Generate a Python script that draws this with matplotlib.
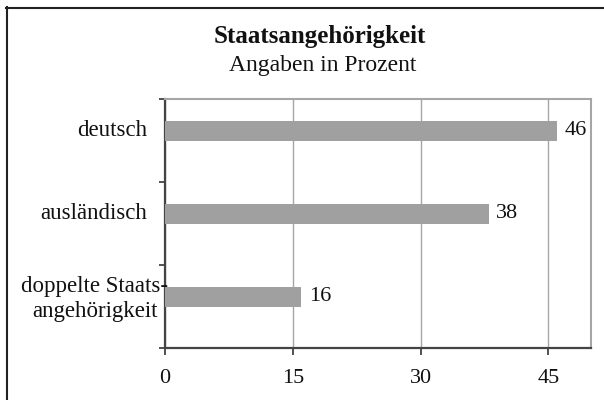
import matplotlib
matplotlib.use("Agg")
import matplotlib.pyplot as plt
from matplotlib.lines import Line2D
import matplotlib.transforms as mtransforms

categories = ["deutsch", "ausländisch", "doppelte Staats-\nangehörigkeit"]
values = [46, 38, 16]
xticks = [0, 15, 30, 45]
title = "Staatsangehörigkeit"
subtitle = "Angaben in Prozent"

plt.rcParams['font.family'] = ['Liberation Serif', 'DejaVu Serif']

fig = plt.figure(figsize=(6.04, 4.0), dpi=100)
ax = fig.add_axes([165/604, 1-348/400, 426/604, 249/400])

pos = list(range(len(categories)))
offset = -0.115
bar_y = [p + offset for p in pos]
ax.barh(bar_y, values, height=0.24, color='#A0A0A0', zorder=3)

ax.set_xlim(0, 50)
ax.set_ylim(2.5, -0.5)
ax.set_xticks(xticks)
ax.set_xticklabels([str(t) for t in xticks], fontsize=16, color='#111111')
ax.tick_params(axis='x', direction='out', length=5, width=1.2, color='#333333', pad=10)
ax.set_yticks([-0.5, 0.5, 1.5, 2.5])
ax.set_yticklabels([])
ax.tick_params(axis='y', direction='out', length=4, width=1.2, color='#333333')

ax.grid(axis='x', color='#A6A6A6', linewidth=1, zorder=0)
ax.set_axisbelow(True)
for s in ['top', 'right']:
    ax.spines[s].set_color('#A6A6A6')
    ax.spines[s].set_linewidth(1.5)
for s in ['left', 'bottom']:
    ax.spines[s].set_color('#444444')
    ax.spines[s].set_linewidth(1.6)

# value labels
for y, v in zip(bar_y, values):
    ax.annotate(str(v), xy=(v, y), xytext=(5.5, 0), textcoords='offset points',
                va='center', ha='left', fontsize=16, color='#111111')

# category labels
trans = mtransforms.blended_transform_factory(ax.transAxes, ax.transData)
for i, (y, c) in enumerate(zip(bar_y, categories)):
    if '\n' in c:
        ax.text(-0.165, y + 0.02, c, transform=trans, ha='center', va='center',
                multialignment='center', fontsize=16.5, color='#111111', linespacing=1.25)
    else:
        ax.text(-0.042, y, c, transform=trans, ha='right', va='center',
                fontsize=16.5, color='#111111')

fig.text(320/604, 1-36/400, title, ha='center', va='center', fontsize=18,
         fontweight='bold', color='#111111')
fig.text(323/604, 1-66/400, subtitle, ha='center', va='center', fontsize=17,
         color='#111111')

# figure border (left and top only)
fig.add_artist(Line2D([6.5/604, 6.5/604], [0, 1-7/400], transform=fig.transFigure,
                      color='#222222', linewidth=1.5))
fig.add_artist(Line2D([6/604, 1], [1-7.5/400, 1-7.5/400], transform=fig.transFigure,
                      color='#222222', linewidth=1.5))

fig.savefig("out.png", dpi=100)
